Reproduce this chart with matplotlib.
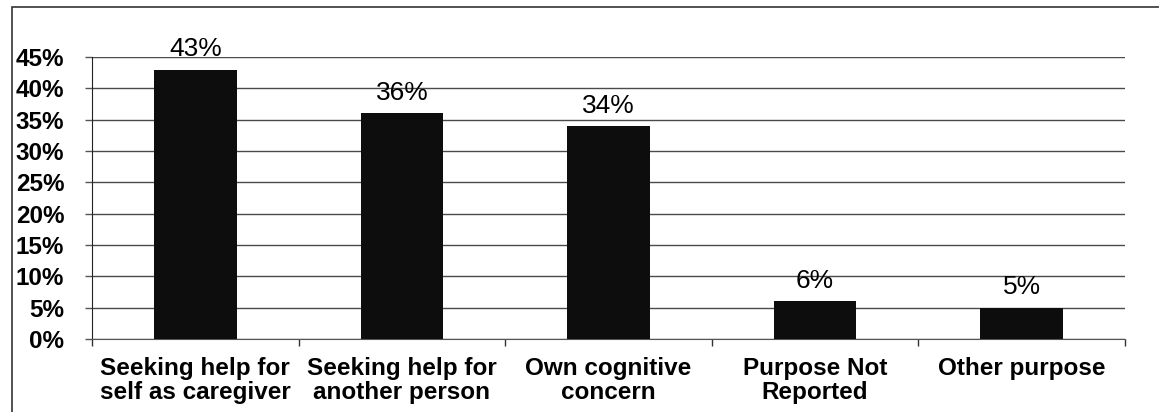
import matplotlib.pyplot as plt
from matplotlib.patches import Rectangle

categories = ["Seeking help for\nself as caregiver", "Seeking help for\nanother person",
              "Own cognitive\nconcern", "Purpose Not\nReported", "Other purpose"]
values = [43, 36, 34, 6, 5]
yticks = [0, 5, 10, 15, 20, 25, 30, 35, 40, 45]

plt.rcParams['font.family'] = ['Liberation Sans', 'DejaVu Sans']

fig = plt.figure(figsize=(11.59, 4.12), dpi=100)
ax = fig.add_axes([92/1159, 1 - 339/412, (1125 - 92)/1159, (339 - 57)/412])

x = list(range(len(categories)))
ax.bar(x, values, width=0.4, color='#0d0d0d', zorder=3)

for xi, v in zip(x, values):
    ax.annotate(f"{v}%", (xi, v), xytext=(0, 6), textcoords='offset points',
                ha='center', va='bottom', fontsize=19)

ax.set_xlim(-0.5, 4.5)
ax.set_ylim(0, 45)
ax.set_yticks(yticks)
ax.set_yticklabels([f"{t}%" for t in yticks], fontsize=17.5, fontweight='bold')
ax.yaxis.grid(True, color='#4a4a4a', linewidth=1.0, zorder=0)
ax.tick_params(axis='y', length=5, width=1, color='#555555', pad=15)

ax.set_xticks(x)
ax.set_xticklabels(categories, fontsize=17.5, fontweight='bold', linespacing=1.05)
ax.set_xticks([i - 0.5 for i in range(len(categories) + 1)], minor=True)
ax.tick_params(axis='x', which='major', length=0, pad=13)
ax.tick_params(axis='x', which='minor', length=5, width=1, color='#333333')

for s in ['top', 'right']:
    ax.spines[s].set_visible(False)
ax.spines['left'].set_color('#222222')
ax.spines['bottom'].set_color('#555555')

fig.patches.append(Rectangle((12/1159, -0.1), 1.2, 1.1 - 7/412, transform=fig.transFigure,
                             fill=False, edgecolor='#333333', linewidth=1.2))

fig.savefig("out.png", dpi=100)
